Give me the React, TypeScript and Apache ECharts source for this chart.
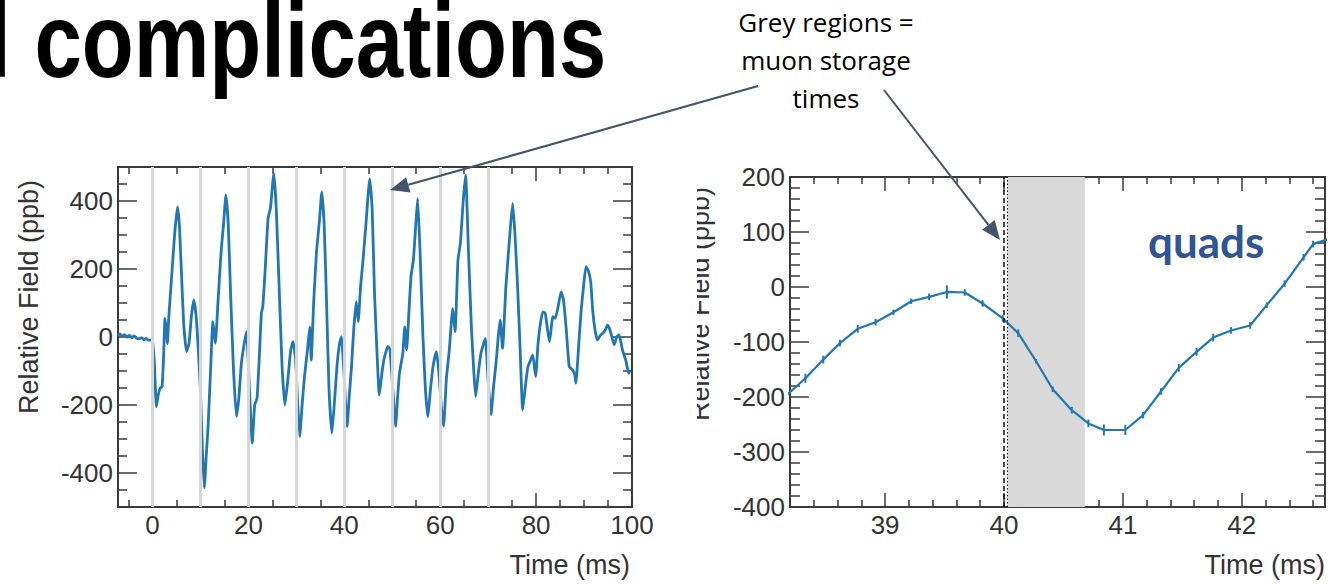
import React, { useEffect, useRef } from "react";
import * as echarts from "echarts";

// ---------- Left panel: field vs time ----------
const timeMs = [
  -7.3, -6.8, -6.3, -5.8, -5.3, -4.8, -4.3, -3.8, -3.3, -2.8, -2.3, -1.8, -1.3, -0.8, -0.3, 0.0,
  0.4, 0.8, 1.2, 1.6, 2.0, 2.3, 2.6, 2.9, 3.1, 3.4, 4.0, 4.6, 5.2, 5.6, 6.0, 6.5, 7.1, 7.6, 8.1,
  8.6, 9.1, 9.6, 10.0, 10.4, 10.8, 11.2, 11.6, 12.1, 12.6, 13.1, 13.6, 14.3, 14.8, 15.3, 15.8,
  16.3, 16.9, 17.5, 18.0, 18.5, 19.0, 19.6, 20.2, 20.8, 21.3, 21.8, 22.3, 22.7, 23.0, 23.5, 24.1,
  24.6, 25.3, 25.8, 26.4, 27.0, 27.6, 28.2, 28.8, 29.3, 29.8, 30.3, 30.7, 31.2, 31.7, 32.3, 32.8,
  33.1, 33.6, 34.2, 34.8, 35.3, 35.8, 36.3, 36.8, 37.4, 37.9, 38.5, 39.0, 39.4, 39.9, 40.6, 41.0,
  41.5, 42.0, 42.5, 42.9, 43.4, 43.9, 44.5, 45.3, 45.8, 46.3, 46.8, 47.3, 47.9, 48.4, 49.1, 49.5,
  50.1, 50.7, 51.1, 51.5, 52.2, 52.6, 53.0, 53.5, 53.9, 54.4, 54.9, 55.3, 55.8, 56.4, 56.9, 57.4,
  58.0, 58.5, 59.2, 59.7, 60.2, 60.7, 61.3, 61.9, 62.3, 62.6, 63.1, 63.7, 64.2, 64.8, 65.3, 65.9,
  66.5, 67.0, 67.4, 68.0, 68.5, 69.4, 70.0, 70.6, 71.1, 71.7, 72.1, 72.5, 73.0, 73.7, 74.4, 75.1,
  75.6, 76.2, 76.7, 77.2, 77.8, 78.3, 78.8, 79.3, 79.9, 80.4, 80.9, 81.4, 81.9, 82.4, 82.8, 83.5,
  84.0, 84.6, 85.2, 85.7, 86.3, 86.9, 87.5, 88.0, 88.3, 88.9, 89.4, 89.9, 90.4, 90.9, 91.4, 91.8,
  92.3, 92.8, 93.4, 93.9, 94.4, 94.9, 95.3, 95.6, 96.3, 96.8, 97.3, 97.7, 98.0, 98.7, 99.3, 99.6,
];
const fieldPpb = [
  5, 9, 2, 7, 0, 5, -2, 3, -4, -5, -2, -8, -4, -10, -9, -12,
  -80, -205, -170, -150, -145, -60, 55, 20, -20, 60, 180, 300, 383, 330, 200, 40, -43, -20, 60,
  109, 60, -50, -160, -330, -444, -350, -260, -100, 45, -19, 90, 250, 330, 417, 330,
  120, -100, -234, -180, -82, -30, 16, -150, -312, -200, -180, -50, 70, 89, 200, 349,
  380, 481, 380, 150, -80, -200, -130, -40, -14, -60, -200, -293, -200, -116, -40, 30,
  -68, 100, 250, 340, 427, 330, 100, -150, -283, -200, -80, -20, 1, -100, -263, -180,
  -87, 30, 104, 45, 150, 226, 330, 466, 380, 128, -40, -170, -100, -58, -28, -35,
  -150, -263, -180, -107, -48, 30, -38, 80, 177, 226, 330, 407, 250, 1, -150, -234,
  -150, -87, -43, -100, -200, -263, -120, -38, 40, 84, 16, 226, 275, 400, 476, 250,
  30, -100, -175, -100, -48, -4, -130, -229, -150, -68, 0, 50, -33, 148, 280, 393,
  300, 128, -50, -214, -140, -87, -70, -53, -116, -20, 40, 74, 70, 20, -14, 60,
  55, 90, 133, 110, 20, -87, -95, -107, -136, -20, 79, 150, 207, 195, 160, 79,
  20, -9, 5, 11, 20, 35, 25, 11, -23, 0, 6, -15, -38, -68, -107, -97,
];
const storageStarts = [0, 10, 20, 30, 40, 50, 60, 70];
const leftXMajor = [0, 20, 40, 60, 80, 100];
const leftXMinor = [-5, 5, 10, 15, 25, 30, 35, 45, 50, 55, 65, 70, 75, 85, 90, 95];
const leftYMajor = [-400, -200, 0, 200, 400];
const leftYMinor = [-450, -350, -300, -250, -150, -100, -50, 50, 100, 150, 250, 300, 350, 450];

// ---------- Right panel: quads zoom ----------
const quadTime = [
  38.17, 38.33, 38.48, 38.62, 38.77, 38.92, 39.07, 39.22, 39.37, 39.52, 39.67, 39.82, 39.99,
  40.12, 40.27, 40.41, 40.57, 40.71, 40.84, 41.02, 41.17, 41.32, 41.47, 41.62, 41.76, 41.91,
  42.07, 42.21, 42.36, 42.52, 42.60, 42.74,
];
const quadField = [
  -197, -166, -132, -102, -76, -64, -46, -26, -18, -9, -10, -30, -57,
  -84, -135, -186, -224, -248, -260, -260, -233, -190, -147, -118, -92, -79,
  -70, -33, 6, 54, 78, 88,
];
const quadErr = [
  6, 8, 7, 6, 7, 6, 5, 5, 6, 12, 6, 6, 6,
  7, 4, 5, 6, 7, 10, 9, 6, 6, 7, 7, 7, 6,
  6, 5, 6, 6, 6, 6,
];
const quadStoreStart = 40.03;
const quadStoreEnd = 40.68;
const quadDashed = 40.0;
const quadDotted = 40.035;
const rightXMajor = [39, 40, 41, 42];
const rightXMinor = [38.4, 38.6, 38.8, 39.2, 39.4, 39.6, 39.8, 40.2, 40.4, 40.6, 40.8, 41.2, 41.4, 41.6, 41.8, 42.2, 42.4, 42.6];
const rightYMajor = [-400, -300, -200, -100, 0, 100, 200];
const rightYMinor = [-380, -360, -340, -320, -280, -260, -240, -220, -180, -160, -140, -120, -80, -60, -40, -20, 20, 40, 60, 80, 120, 140, 160, 180];

const BLUE = "#2077b4";
const AXC = "#3a3a3a";
const FONT = "Liberation Sans";

function ax(grid: number, min: number, max: number, vals: number[], len: number, pos: string, labels: boolean) {
  return {
    type: "value", gridIndex: grid, min, max, position: pos,
    axisLine: { show: false, onZero: false }, splitLine: { show: false },
    axisTick: { show: true, inside: true, length: len, customValues: vals, lineStyle: { color: AXC, width: 1.5 } },
    axisLabel: labels
      ? { show: true, customValues: vals, fontSize: 26, color: "#333", fontFamily: FONT, margin: 5 }
      : { show: false },
  };
}

function arrow(x1: number, y1: number, x2: number, y2: number, color: string) {
  const dx = x2 - x1, dy = y2 - y1;
  const L = Math.hypot(dx, dy);
  const ux = dx / L, uy = dy / L;
  const hl = 19, hw = 8;
  const bx = x2 - ux * hl, by = y2 - uy * hl;
  return [
    { type: "line", z: 50, shape: { x1, y1, x2: bx, y2: by }, style: { stroke: color, lineWidth: 2 } },
    {
      type: "polygon", z: 50,
      shape: { points: [[x2, y2], [bx - uy * hw, by + ux * hw], [bx + uy * hw, by - ux * hw]] },
      style: { fill: color },
    },
  ];
}

export default function App() {
  const ref = useRef<HTMLDivElement>(null);
  useEffect(() => {
    if (!ref.current) return;
    const chart = echarts.init(ref.current, null, { renderer: "svg" });
    const ARROW = "#44546a";
    const option: any = {
      animation: false,
      backgroundColor: "#ffffff",
      grid: [
        { left: 118, top: 167, width: 514, height: 340, show: true, borderColor: AXC, borderWidth: 2, backgroundColor: "transparent" },
        { left: 790, top: 177, width: 535, height: 330, show: true, borderColor: AXC, borderWidth: 2, backgroundColor: "transparent" },
      ],
      xAxis: [
        ax(0, -7.2, 100, leftXMajor, 14, "bottom", true),
        ax(0, -7.2, 100, leftXMinor, 7, "bottom", false),
        ax(0, -7.2, 100, leftXMajor, 14, "top", false),
        ax(0, -7.2, 100, leftXMinor, 7, "top", false),
        ax(1, 38.2, 42.7, rightXMajor, 14, "bottom", true),
        ax(1, 38.2, 42.7, rightXMinor, 7, "bottom", false),
        ax(1, 38.2, 42.7, rightXMajor, 14, "top", false),
        ax(1, 38.2, 42.7, rightXMinor, 7, "top", false),
      ],
      yAxis: [
        ax(0, -500, 500, leftYMajor, 19, "left", true),
        ax(0, -500, 500, leftYMinor, 9, "left", false),
        ax(0, -500, 500, leftYMajor, 19, "right", false),
        ax(0, -500, 500, leftYMinor, 9, "right", false),
        ax(1, -400, 200, rightYMajor, 19, "left", true),
        ax(1, -400, 200, rightYMinor, 10, "left", false),
        ax(1, -400, 200, rightYMajor, 19, "right", false),
        ax(1, -400, 200, rightYMinor, 10, "right", false),
      ],
      series: [
        {
          type: "line", xAxisIndex: 0, yAxisIndex: 0, z: 1, data: [], silent: true,
          markLine: {
            silent: true, symbol: ["none", "none"], label: { show: false },
            lineStyle: { color: "#d6d6d6", width: 3, type: "solid" },
            data: storageStarts.map((v) => ({ xAxis: v })),
          },
        },
        {
          type: "line", xAxisIndex: 0, yAxisIndex: 0, z: 3,
          data: timeMs.map((t, i) => [t, fieldPpb[i]]),
          showSymbol: false, smooth: 0.15,
          lineStyle: { color: BLUE, width: 2.8 },
        },
        {
          type: "line", xAxisIndex: 4, yAxisIndex: 4, z: 1, data: [], silent: true,
          markArea: {
            silent: true, itemStyle: { color: "#d9d9d9" },
            data: [[{ xAxis: quadStoreStart }, { xAxis: quadStoreEnd }]],
          },
          markLine: {
            silent: true, symbol: ["none", "none"], label: { show: false },
            data: [
              { xAxis: quadDashed, lineStyle: { color: "#111", width: 1.5, type: [5, 3] } },
              { xAxis: quadDotted, lineStyle: { color: "#111", width: 1, type: [1.5, 2] } },
            ],
          },
        },
        {
          type: "line", xAxisIndex: 4, yAxisIndex: 4, z: 3,
          data: quadTime.map((t, i) => [t, quadField[i]]),
          showSymbol: false, lineStyle: { color: BLUE, width: 2.2 },
        },
        {
          type: "custom", xAxisIndex: 4, yAxisIndex: 4, z: 4, clip: true,
          data: quadTime.map((t, i) => [t, quadField[i], quadErr[i]]),
          encode: { x: 0, y: 1 },
          renderItem: (params: any, api: any) => {
            const x = api.value(0), y = api.value(1), e = api.value(2);
            const p1 = api.coord([x, y - e]);
            const p2 = api.coord([x, y + e]);
            return {
              type: "line",
              shape: { x1: p1[0], y1: p1[1], x2: p2[0], y2: p2[1] },
              style: { stroke: BLUE, lineWidth: 2 },
            };
          },
        },
      ],
      graphic: [
        {
          type: "text", x: -12.8, y: 40.6, scaleX: 0.81, z: 10,
          style: {
            text: "l complications", fontSize: 105, fontWeight: "bold", fontFamily: FONT, fill: "#000",
            textAlign: "left", align: "left", textVerticalAlign: "middle", verticalAlign: "middle",
          },
        },
        ...["Grey regions =", "muon storage", "times"].map((t, i) => ({
          type: "text", x: 826, y: [22, 60, 97.5][i], z: 10,
          style: {
            text: t, fontSize: 26, fontFamily: "Open Sans", fill: "#000",
            textAlign: "center", align: "center", textVerticalAlign: "middle", verticalAlign: "middle",
          },
        })),
        ...arrow(758, 86, 390, 190, ARROW),
        ...arrow(884, 90, 1000, 240, ARROW),
        {
          type: "text", x: 29, y: 297, rotation: Math.PI / 2, z: 10,
          style: {
            text: "Relative Field (ppb)", fontSize: 27, fontFamily: FONT, fill: "#333",
            textAlign: "center", align: "center", textVerticalAlign: "middle", verticalAlign: "middle",
          },
        },
        {
          type: "text", x: 700, y: 304, rotation: Math.PI / 2, z: 10,
          style: {
            text: "Relative Field (ppb)", fontSize: 27, fontFamily: FONT, fill: "#333",
            textAlign: "center", align: "center", textVerticalAlign: "middle", verticalAlign: "middle",
          },
        },
        { type: "rect", z: 11, shape: { x: 660, y: 170, width: 37, height: 270 }, style: { fill: "#fff" } },
        {
          type: "text", x: 630, y: 565, z: 10,
          style: {
            text: "Time (ms)", fontSize: 27, fontFamily: FONT, fill: "#333",
            textAlign: "right", align: "right", textVerticalAlign: "middle", verticalAlign: "middle",
          },
        },
        {
          type: "text", x: 1325, y: 565, z: 10,
          style: {
            text: "Time (ms)", fontSize: 27, fontFamily: FONT, fill: "#333",
            textAlign: "right", align: "right", textVerticalAlign: "middle", verticalAlign: "middle",
          },
        },
        {
          type: "text", x: 1148, y: 241, z: 10,
          style: {
            text: "quads", fontSize: 44, fontWeight: "bold", fontFamily: "Lato", fill: "#2f5597",
            textAlign: "left", align: "left", textVerticalAlign: "middle", verticalAlign: "middle",
          },
        },
      ],
    };
    chart.setOption(option);
    return () => chart.dispose();
  }, []);
  return (
    <div
      ref={ref}
      style={{ position: "fixed", left: 0, top: 0, width: 1339, height: 584, background: "#fff" }}
    />
  );
}
